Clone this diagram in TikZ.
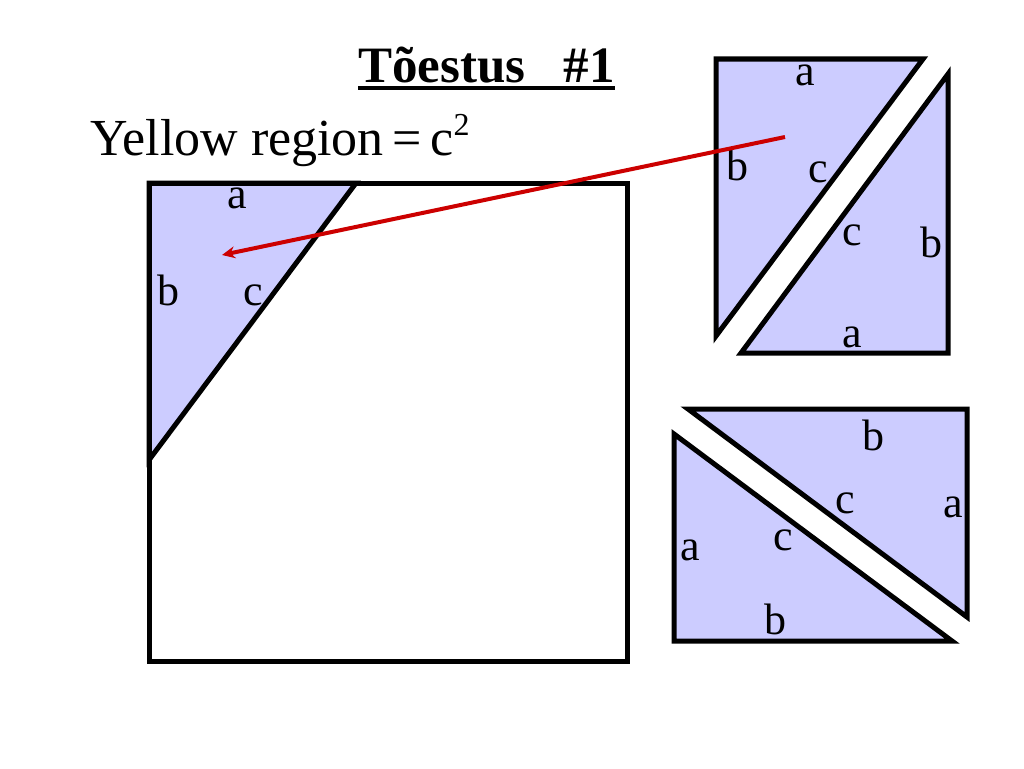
\documentclass[tikz,border=0pt]{standalone}
\usepackage{fontspec}
\setmainfont{Liberation Serif}
\usetikzlibrary{arrows.meta}
\definecolor{piecefill}{HTML}{CCCCFF}
\definecolor{pointer}{HTML}{CC0000}
\tikzset{
    piece/.style={draw=black, line width=5pt, fill=piecefill},
    side/.style={inner sep=0pt, font=\fontsize{44}{52}\selectfont},
    heading/.style={anchor=base west, inner sep=0pt, font=\fontsize{52}{60}\selectfont}
}
\begin{document}
\begin{tikzpicture}[x=1pt,y=-1pt]
    \useasboundingbox (0,0) rectangle (1024,768);
    % heading
    \node[heading, font=\bfseries\fontsize{51}{60}\selectfont] (title) at (358,82) {Tõestus\ \ \ \#1};
    \draw[line width=3.5pt] ([yshift=-6pt]title.base west) -- ([yshift=-6pt]title.base east);
    \node[heading] (area) at (90,155) {Yellow region\,=\,c\raisebox{20pt}{\fontsize{32}{32}\selectfont 2}};
    % big square
    \draw[piece] (149,183) -- (356,183) -- (149,460) -- cycle;
    \draw[line width=5pt] (149,183) rectangle (627,661);
    \node[side] (sqa) at (237,198) {a};
    \node[side] (sqb) at (168,290) {b};
    \node[side] (sqc) at (253,295) {c};
    % upper pair
    \draw[piece] (716,59) -- (923,59) -- (716,336) -- cycle;
    \draw[piece] (948,74) -- (948,353) -- (741,353) -- cycle;
    \node[side] (upa) at (805,75) {a};
    \node[side] (upb) at (737,165) {b};
    \node[side] (upc) at (818,172) {c};
    \node[side] (lowc) at (852,235) {c};
    \node[side] (lowb) at (931,242) {b};
    \node[side] (lowa) at (852,337) {a};
    % lower pair
    \draw[piece] (688,409) -- (967,409) -- (967,617) -- cycle;
    \draw[piece] (674,434) -- (674,641) -- (952,641) -- cycle;
    \node[side] (rtb) at (873,435) {b};
    \node[side] (rtc) at (845,503) {c};
    \node[side] (rta) at (953,507) {a};
    \node[side] (lfa) at (690,550) {a};
    \node[side] (lfc) at (783,540) {c};
    \node[side] (lfb) at (775,619) {b};
    % pointer
    \coordinate (from) at (785,137);
    \coordinate (to) at (222,255);
    \draw[pointer, line width=4pt, -{Stealth[length=13pt,width=12pt]}] (from) -- (to);
\end{tikzpicture}
\end{document}
